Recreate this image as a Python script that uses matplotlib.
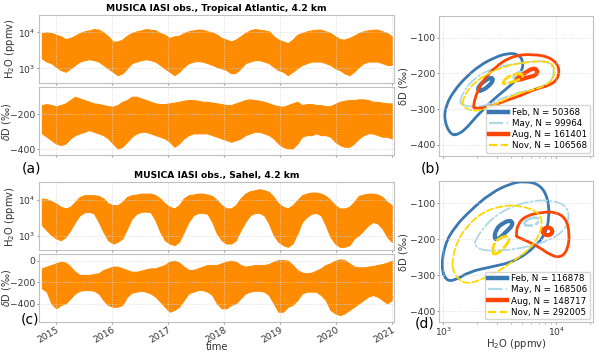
import matplotlib
matplotlib.use("Agg")
import matplotlib.pyplot as plt
from matplotlib.path import Path
from matplotlib.patches import PathPatch
from matplotlib.lines import Line2D
import numpy as np
import pandas as pd

# monthly envelopes of the IASI scatter, Oct 2014 .. Dec 2020
months = pd.date_range("2014-10-01", "2020-12-31", periods=75)

ta_h2o_hi = [9600, 10000, 9600,
             8600, 7800, 6500, 7000, 8100, 9600, 10700, 11400, 12400, 11900, 10000, 7800,
             5600, 5600, 6300, 8100, 9600, 10700, 11400, 12400, 11900, 11400, 9600, 8600,
             7000, 7800, 8100, 9600, 10700, 11400, 11900, 11900, 10700, 10000, 8600, 7000,
             6300, 5600, 6300, 7800, 9600, 11400, 12400, 11900, 11400, 10700, 7800, 6300,
             5600, 5000, 6300, 8600, 9600, 10700, 11400, 11900, 11900, 10700, 9600, 7800,
             6500, 6300, 7000, 8100, 9600, 10700, 11400, 11900, 11900, 10700, 9600, 7800]
ta_h2o_lo = [1900, 1550, 1400,
             1100, 900, 810, 1000, 1250, 1550, 1700, 1800, 1700, 1550, 1250, 1000,
             810, 650, 730, 1000, 1400, 1550, 1700, 1800, 1700, 1550, 1250, 1000,
             810, 650, 810, 1100, 1400, 1550, 1600, 1550, 1400, 1250, 1100, 1000,
             900, 730, 760, 1000, 1400, 1550, 1700, 1700, 1550, 1400, 1100, 900,
             810, 650, 810, 1000, 1250, 1400, 1550, 1550, 1550, 1400, 1250, 1000,
             900, 730, 650, 810, 1100, 1400, 1550, 1550, 1550, 1400, 1250, 1250]
ta_dd_hi = [-148, -142, -148,
            -154, -148, -138, -119, -100, -110, -119, -129, -138, -142, -148, -154,
            -157, -148, -129, -119, -100, -100, -110, -119, -129, -138, -142, -142,
            -138, -134, -129, -123, -119, -119, -123, -129, -129, -134, -138, -142,
            -148, -148, -138, -129, -119, -115, -119, -123, -129, -138, -148, -154,
            -157, -148, -138, -129, -148, -142, -142, -148, -148, -154, -154, -142,
            -129, -123, -119, -119, -115, -115, -119, -129, -129, -134, -138, -138]
ta_dd_lo = [-310, -329, -349,
            -368, -377, -368, -339, -320, -310, -301, -291, -301, -310, -320, -339,
            -368, -396, -387, -358, -329, -310, -301, -301, -310, -320, -329, -339,
            -358, -387, -368, -339, -320, -310, -310, -310, -310, -320, -329, -339,
            -349, -358, -349, -339, -320, -310, -301, -301, -310, -320, -339, -368,
            -387, -396, -396, -368, -329, -320, -320, -310, -320, -320, -329, -358,
            -377, -387, -387, -368, -339, -320, -310, -310, -320, -329, -329, -339]

sa_h2o_hi = [10700, 10200, 9000,
             7800, 6300, 5700, 6300, 8600, 11800, 13200, 13200, 13200, 12600, 10700, 7800,
             7000, 7000, 8600, 11800, 13200, 13700, 14600, 14600, 14600, 13200, 10700, 7800,
             6300, 5700, 7000, 10700, 13200, 13700, 14600, 14600, 13700, 12600, 9600, 7000,
             5700, 5700, 7000, 10700, 14600, 17000, 18100, 19300, 18100, 16200, 11800, 7800,
             6300, 5700, 7000, 9600, 13200, 14600, 15600, 15600, 14600, 12600, 9600, 7000,
             5700, 5700, 6300, 8600, 12600, 13700, 14600, 14600, 13700, 11800, 8600, 7000]
sa_h2o_lo = [1970, 1430, 1050,
             850, 760, 940, 1430, 2430, 3700, 4500, 4600, 4200, 2430, 1290, 760,
             615, 684, 850, 1590, 3000, 4100, 4600, 4700, 4500, 2700, 1290, 760,
             615, 554, 684, 1290, 2430, 3700, 4300, 4300, 4100, 2430, 1160, 760,
             615, 615, 760, 1430, 2430, 3700, 4300, 4300, 3700, 2190, 1050, 684,
             554, 499, 615, 1160, 2430, 3330, 4100, 4300, 3700, 1970, 940, 615,
             499, 499, 554, 850, 1050, 1430, 1970, 2430, 2190, 1590, 940, 684]
sa_dd_hi = [-71, -55, -40,
            -25, -9, -18, -55, -102, -132, -132, -132, -123, -117, -86, -71,
            -55, -55, -71, -86, -102, -102, -92, -80, -71, -71, -55, -40,
            -9, 0, -18, -55, -86, -86, -71, -55, -40, -40, -40, -25,
            -9, 0, -9, -40, -55, -49, -40, -40, -40, -31, -9, 6,
            6, 0, -40, -86, -111, -117, -111, -92, -71, -40, -25, 0,
            12, 6, -25, -55, -62, -62, -55, -49, -40, -31, -18, 0]
sa_dd_lo = [-255, -286, -394,
            -440, -409, -394, -348, -302, -277, -271, -271, -277, -302, -363, -409,
            -425, -425, -409, -332, -295, -286, -277, -286, -302, -332, -378, -425,
            -471, -455, -425, -363, -302, -286, -271, -271, -286, -317, -394, -440,
            -440, -409, -394, -348, -302, -286, -277, -277, -286, -317, -394, -471,
            -471, -425, -409, -363, -302, -286, -286, -286, -317, -363, -455, -486,
            -502, -486, -455, -425, -394, -363, -332, -317, -332, -363, -394, -363]

# KDE contour lines (outer, inner) per month: H2O (ppmv), dD (permil)
ta_contours = {
    "Feb": [([1165, 1016, 1052, 1248, 1584, 2080, 2829, 3715, 4558, 5119, 4980, 4405, 3470, 2829, 2384, 1943, 1638, 1382],
             [-373, -331, -290, -248, -211, -179, -156, -144, -146, -165, -193, -220, -248, -271, -294, -322, -350, -370]),
            ([2011, 2080, 2384, 2696, 2770, 2553, 2228], [-248, -234, -218, -211, -220, -234, -248])],
    "May": [([1382, 1695, 2553, 4115, 6635, 8716, 9656, 9018, 6635, 4716, 3470, 2384, 1878, 1480],
             [-276, -225, -188, -174, -165, -169, -193, -225, -243, -253, -267, -290, -294, -290]),
            ([4115, 4405, 4880, 5224, 4980, 4405], [-211, -200, -195, -200, -209, -214])],
    "Aug": [([1815, 2080, 2829, 4115, 6197, 9018, 10695, 10340, 8716, 6635, 4880, 3590, 2553, 1943],
             [-294, -234, -183, -151, -146, -156, -183, -216, -234, -243, -262, -276, -294, -299]),
            ([4405, 5224, 6197, 6866, 6635, 5594, 4558], [-216, -200, -185, -191, -206, -211, -220])],
    "Nov": [([1480, 1695, 2384, 3590, 5406, 8141, 9656, 9656, 8141, 5989, 4405, 3133, 2228, 1695, 1480],
             [-276, -239, -202, -179, -169, -165, -179, -211, -234, -248, -257, -281, -304, -304, -290]),
            ([3354, 3715, 4558, 5119, 4880, 3977, 3470], [-225, -209, -200, -204, -216, -225, -231])],
}
sa_contours = {
    "Feb": [([960, 1031, 1265, 1720, 2590, 3900, 5300, 7210, 8500, 8670, 7980, 6500, 4330, 2590, 1720, 1265, 1052],
             [-278, -214, -166, -122, -74, -46, -39, -49, -88, -144, -186, -222, -262, -278, -290, -315, -315]),
            ([2810, 2930, 3380, 3980, 4150, 3590, 3110], [-200, -172, -155, -147, -161, -180, -200])],
    "May": [([1943, 2553, 3844, 6197, 9332, 12270, 13130, 11860, 8716, 5406, 3354, 2228, 1878],
             [-199, -148, -111, -93, -93, -107, -139, -176, -204, -223, -232, -232, -218]),
            ([5119, 5594, 6635, 7201, 6635, 5594], [-158, -144, -139, -147, -160, -164])],
    "Aug": [([4405, 4558, 5406, 7603, 9991, 12270, 13130, 12690, 11070, 9018, 7104, 5406, 4558],
             [-190, -158, -135, -125, -125, -144, -186, -228, -251, -246, -223, -204, -195]),
            ([7498, 8141, 9018, 9332, 8716, 7870], [-176, -167, -169, -181, -190, -188])],
    "Nov": [([1206, 1291, 1584, 2228, 3354, 4716, 6635, 7603, 7104, 5788, 4405, 3133, 2228, 1638, 1336, 1206],
             [-260, -214, -167, -125, -107, -107, -121, -148, -190, -228, -256, -288, -311, -325, -311, -283]),
            ([2733, 2770, 3133, 3715, 3896, 3590, 3133, 2829], [-237, -214, -197, -190, -200, -218, -237, -243])],
}
ta_counts = {"Feb": 50368, "May": 99964, "Aug": 161401, "Nov": 106568}
sa_counts = {"Feb": 116878, "May": 168506, "Aug": 148717, "Nov": 292005}

styles = {"Feb": dict(color="#3a78b2", ls="-", lw=(2.0, 3.0)),
          "May": dict(color="lightblue", ls="-.", lw=(1.3, 2.0)),
          "Aug": dict(color="orangered", ls="-", lw=(2.0, 3.0)),
          "Nov": dict(color="gold", ls="--", lw=(1.3, 2.0))}

GRID = "#d8d8d8"
SPINE = "#c0c0c0"
TFS = 6.6   # tick labels
LFS = 7.2   # axis labels


def style_ax(ax):
    ax.grid(True, color=GRID, lw=0.6, ls=":")
    for s in ax.spines.values():
        s.set_color(SPINE)
    ax.tick_params(labelsize=TFS, colors="#333333", length=1.5, pad=1.2, color="#999999")
    ax.tick_params(which="minor", length=1.2, color="#aaaaaa")


def loop(ax, xs, ys, color, ls, lw):
    # closed smooth curve, read points used as quadratic bezier control points
    lx = np.log10(xs)
    y = np.asarray(ys, float)
    n = len(lx)
    mx = (lx + np.roll(lx, -1)) / 2
    my = (y + np.roll(y, -1)) / 2
    verts = [(10 ** mx[-1], my[-1])]
    for i in range(n):
        verts.append((10 ** lx[i], y[i]))
        verts.append((10 ** mx[i], my[i]))
    codes = [Path.MOVETO] + [Path.CURVE3] * (2 * n)
    ax.add_patch(PathPatch(Path(verts, codes), fill=False, edgecolor=color,
                           lw=lw, ls=ls, capstyle="round"))


fig = plt.figure(figsize=(6.0, 3.55), dpi=100)
xl = (pd.Timestamp("2014-09-12"), pd.Timestamp("2021-01-15"))
orange = "darkorange"

ax_a1 = fig.add_axes([0.065, 0.767, 0.592, 0.190])
ax_a2 = fig.add_axes([0.065, 0.5625, 0.592, 0.1915], sharex=ax_a1)
ax_c1 = fig.add_axes([0.065, 0.295, 0.592, 0.1915], sharex=ax_a1)
ax_c2 = fig.add_axes([0.065, 0.094, 0.592, 0.190], sharex=ax_a1)
ax_b = fig.add_axes([0.732, 0.5614, 0.2557, 0.3935])
ax_d = fig.add_axes([0.732, 0.093, 0.2557, 0.396], sharex=ax_b, sharey=ax_b)

for ax, lo, hi in [(ax_a1, ta_h2o_lo, ta_h2o_hi), (ax_a2, ta_dd_lo, ta_dd_hi),
                   (ax_c1, sa_h2o_lo, sa_h2o_hi), (ax_c2, sa_dd_lo, sa_dd_hi)]:
    ax.fill_between(months, lo, hi, color=orange, lw=0.8, edgecolor=orange)
    style_ax(ax)

for ax in (ax_a1, ax_c1):
    ax.set_yscale("log")
    ax.set_ylim(400, 30000)
    ax.set_ylabel("H$_2$O (ppmv)", fontsize=LFS, color="#333333", labelpad=1)
    ax.minorticks_off()
ax_a2.set_ylim(-436, -46)
ax_c2.set_ylim(-563, 60)
ax_c2.set_yticks([0, -200, -400])
for ax in (ax_a2, ax_c2):
    ax.set_ylabel("$\\delta$D (‰)", fontsize=7.0, color="#333333")
    ax.yaxis.set_label_coords(-0.072, 0.5)

ax_a1.set_xlim(*xl)
for ax in (ax_a1, ax_a2, ax_c1):
    plt.setp(ax.get_xticklabels(), visible=False)
plt.setp(ax_c2.get_xticklabels(), rotation=30, ha="right", rotation_mode="anchor")
ax_c2.set_xlabel("time", fontsize=LFS, color="#333333", labelpad=-2)

ax_a1.set_title("MUSICA IASI obs., Tropical Atlantic, 4.2 km", fontsize=6.6,
                fontweight="bold", pad=3)
ax_c1.set_title("MUSICA IASI obs., Sahel, 4.2 km", fontsize=6.6,
                fontweight="bold", pad=3)

for ax, contours, counts in [(ax_b, ta_contours, ta_counts), (ax_d, sa_contours, sa_counts)]:
    handles = []
    for m in ["Feb", "May", "Aug", "Nov"]:
        st = styles[m]
        for (xs, ys), lw in zip(contours[m], st["lw"]):
            loop(ax, xs, ys, st["color"], st["ls"], lw)
        handles.append(Line2D([], [], color=st["color"], ls=st["ls"],
                              lw=3.2 if st["ls"] == "-" else 1.6,
                              label=f"{m}, N = {counts[m]}"))
    ax.legend(handles=handles, loc="lower right", fontsize=6.3, handlelength=2.2,
              handletextpad=0.5, borderpad=0.3, labelspacing=0.25, borderaxespad=0.3,
              framealpha=0.8, edgecolor="#cccccc")
    style_ax(ax)
    ax.set_xscale("log")
    ax.set_ylabel("δD (‰)", fontsize=LFS, color="#333333", labelpad=1)

ax_b.set_xlim(920, 21000)
ax_b.set_ylim(-430, -40)
plt.setp(ax_b.get_xticklabels(), visible=False)
ax_d.set_xlabel("H$_2$O (ppmv)", fontsize=LFS, color="#333333", labelpad=-1)

fig.text(0.053, 0.525, "(a)", fontsize=10, ha="center", va="center")
fig.text(0.717, 0.525, "(b)", fontsize=10, ha="center", va="center")
fig.text(0.050, 0.100, "(c)", fontsize=10, ha="center", va="center")
fig.text(0.708, 0.090, "(d)", fontsize=10, ha="center", va="center")

fig.savefig("out.png", dpi=100)
